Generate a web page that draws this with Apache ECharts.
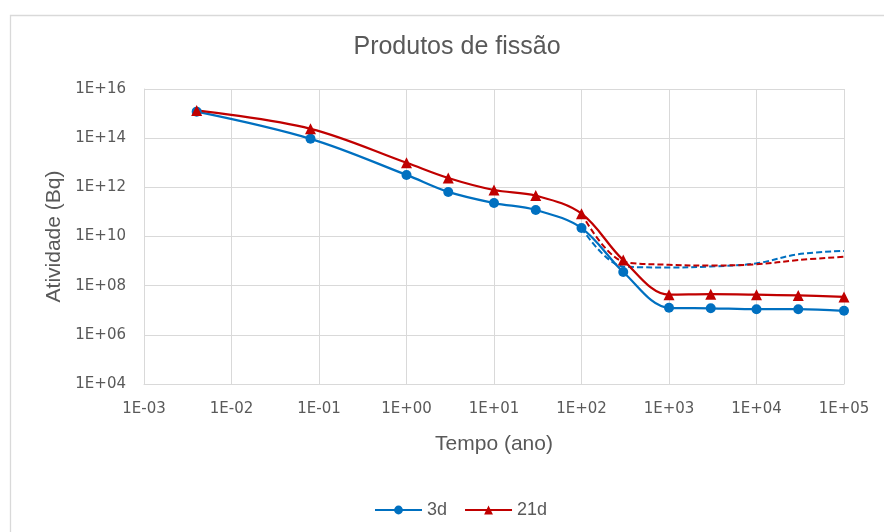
<!DOCTYPE html>
<html>
<head>
<meta charset="utf-8">
<script src="https://cdn.jsdelivr.net/npm/echarts@6/dist/echarts.min.js"></script>
<style>
  html, body { margin: 0; padding: 0; background: #fff; }
  #chart { width: 884px; height: 532px; }
</style>
</head>
<body>
<div id="chart"></div>
<script>
// Time (years) of each sample
const tempo = [0.004, 0.08, 1, 3, 10, 30, 100, 300, 1000, 3000, 10000, 30000, 100000];
// Fission product activity (Bq)
const atividade3d  = [1.2e15, 9.4e13, 3.2e12, 6.5e11, 2.3e11, 1.2e11, 2.2e10, 3.6e8, 1.26e7, 1.2e7, 1.1e7, 1.1e7, 9.5e6];
const atividade21d = [1.35e15, 2.4e14, 1.0e13, 2.4e12, 7.8e11, 4.6e11, 8.5e10, 1.1e9, 4.3e7, 4.5e7, 4.3e7, 4.0e7, 3.5e7];
// Long-term tails (dashed)
const tempoCauda = [100, 300, 1000, 3000, 10000, 30000, 100000];
const cauda3d  = [2.2e10, 6.0e8, 5.5e8, 6.0e8, 8.1e8, 1.9e9, 2.6e9];
const cauda21d = [8.5e10, 9.6e8, 7.1e8, 6.6e8, 7.4e8, 1.1e9, 1.5e9];

const pares = (xs, ys) => xs.map((x, i) => [x, ys[i]]);
const sci = v => {
  const e = Math.round(Math.log10(v));
  return '1E' + (e < 0 ? '-' : '+') + String(Math.abs(e)).padStart(2, '0');
};

const AZUL = '#0070C0';
const VERMELHO = '#C00000';
const TEXTO = '#595959';
const GRADE = '#d9d9d9';
const FONTE = '"Liberation Sans", Arial, sans-serif';

const chart = echarts.init(document.getElementById('chart'), null, { renderer: 'canvas' });
chart.setOption({
  animation: false,
  backgroundColor: '#fff',
  graphic: [{
    type: 'rect', left: 8, top: 13,
    shape: { width: 900, height: 540 },
    style: { fill: 'none', stroke: GRADE, lineWidth: 1.3 }
  }],
  title: {
    text: 'Produtos de fissão',
    left: 452, top: 30, textAlign: 'center',
    textStyle: { fontFamily: FONTE, fontSize: 25, fontWeight: 'normal', color: TEXTO }
  },
  legend: {
    data: ['3d', '21d'],
    left: 369, top: 496,
    itemWidth: 47, itemHeight: 11, itemGap: 17,
    textStyle: { fontFamily: FONTE, fontSize: 18, color: TEXTO }
  },
  grid: { left: 144, right: 40, top: 89, bottom: 148, containLabel: false },
  xAxis: {
    type: 'log', logBase: 10, min: 0.001, max: 100000,
    name: 'Tempo (ano)', nameLocation: 'middle', nameGap: 50,
    nameTextStyle: { fontFamily: FONTE, fontSize: 21, color: TEXTO },
    axisLine: { show: true, lineStyle: { color: GRADE, width: 1 } },
    axisTick: { show: false },
    axisLabel: { formatter: sci, margin: 18, fontFamily: 'DejaVu Sans', fontSize: 15, color: TEXTO },
    splitLine: { show: true, lineStyle: { color: GRADE, width: 1 } },
    minorSplitLine: { show: false }
  },
  yAxis: {
    type: 'log', logBase: 100, min: 1e4, max: 1e16,
    name: 'Atividade (Bq)', nameLocation: 'middle', nameGap: 78, nameRotate: 90,
    nameTextStyle: { fontFamily: FONTE, fontSize: 21, color: TEXTO },
    axisLine: { show: true, lineStyle: { color: GRADE, width: 1 } },
    axisTick: { show: false },
    axisLabel: { formatter: sci, margin: 18, fontFamily: 'DejaVu Sans', fontSize: 15, color: TEXTO },
    splitLine: { show: true, lineStyle: { color: GRADE, width: 1 } }
  },
  series: [
    {
      name: '3d', type: 'line', data: pares(tempo, atividade3d),
      smooth: 0.35, symbol: 'circle', symbolSize: 10,
      itemStyle: { color: AZUL }, lineStyle: { color: AZUL, width: 2.25 }, z: 4
    },
    {
      name: '21d', type: 'line', data: pares(tempo, atividade21d),
      smooth: 0.35, symbol: 'triangle', symbolSize: 11,
      itemStyle: { color: VERMELHO }, lineStyle: { color: VERMELHO, width: 2.25 }, z: 4
    },
    {
      name: '3d cauda', type: 'line', data: pares(tempoCauda, cauda3d),
      smooth: 0.35, symbol: 'none',
      lineStyle: { color: AZUL, width: 2, type: [6, 3] }, z: 3
    },
    {
      name: '21d cauda', type: 'line', data: pares(tempoCauda, cauda21d),
      smooth: 0.35, symbol: 'none',
      lineStyle: { color: VERMELHO, width: 2, type: [6, 3] }, z: 3
    }
  ]
});
</script>
</body>
</html>
